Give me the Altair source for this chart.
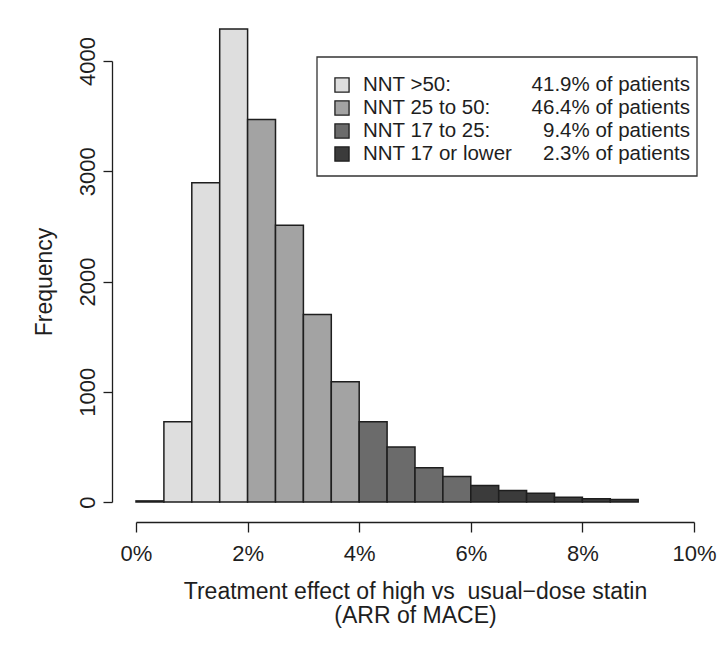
import altair as alt
import pandas as pd

# ---- data ----
bin_start = [0.0, 0.5, 1.0, 1.5, 2.0, 2.5, 3.0, 3.5, 4.0, 4.5, 5.0, 5.5, 6.0, 6.5, 7.0, 7.5, 8.0, 8.5]
bin_width = 0.5
counts = [10, 728, 2895, 4290, 3470, 2510, 1700, 1090, 728, 500, 310, 232, 150, 105, 80, 42, 30, 22]
groups = ["NNT >50:"] * 4 + ["NNT 25 to 50:"] * 4 + ["NNT 17 to 25:"] * 4 + ["NNT 17 or lower"] * 6

legend_names = ["NNT >50:", "NNT 25 to 50:", "NNT 17 to 25:", "NNT 17 or lower"]
legend_pcts = ["41.9% of patients", "46.4% of patients", "9.4% of patients", "2.3% of patients"]
fill_colors = ["#dedede", "#a3a3a3", "#6b6b6b", "#3b3b3b"]

x_ticks = [0, 2, 4, 6, 8, 10]
y_ticks = [0, 1000, 2000, 3000, 4000]
x_title = ["Treatment effect of high vs\u00a0 usual\u2212dose statin", "(ARR of MACE)"]
y_title = "Frequency"

FONT = "Liberation Sans"
INK = "#1e1e1e"

bars_df = pd.DataFrame({
    "start": bin_start,
    "end": [s + bin_width for s in bin_start],
    "count": counts,
    "group": groups,
})
legend_df = pd.DataFrame({"name": legend_names, "pct": legend_pcts})
box_df = pd.DataFrame({"k": [0]})

color_scale = alt.Scale(domain=legend_names, range=fill_colors)

bars = alt.Chart(bars_df).mark_bar(stroke=INK, strokeWidth=1.5, opacity=1).encode(
    x=alt.X("start:Q",
            scale=alt.Scale(domain=[0, 10], nice=False, zero=False),
            axis=alt.Axis(values=x_ticks, labelExpr="datum.value + '%'", title=x_title,
                          offset=20, tickSize=10, labelPadding=11, titlePadding=16,
                          titleLineHeight=24, labelFlush=False)),
    x2="end:Q",
    y=alt.Y("count:Q",
            scale=alt.Scale(domain=[0, 4000], nice=False),
            axis=alt.Axis(values=y_ticks, format="d", title=y_title, offset=24, tickSize=9,
                          labelAngle=270, labelAlign="center", labelBaseline="bottom",
                          labelPadding=4, titlePadding=20, labelFlush=False)),
    y2=alt.datum(0),
    fill=alt.Fill("group:N", scale=color_scale, legend=None),
)

row_y = alt.Y("name:N", sort=legend_names,
              scale=alt.Scale(type="point", range=[24, 93], padding=0), axis=None)

box = alt.Chart(box_df).mark_rect(filled=False, stroke="#333333", strokeWidth=1.3).encode(
    x=alt.value(181), x2=alt.value(561), y=alt.value(-4), y2=alt.value(115)
)

squares = alt.Chart(legend_df).mark_square(size=200, stroke=INK, strokeWidth=1.3, opacity=1).encode(
    x=alt.value(206),
    y=row_y,
    fill=alt.Fill("name:N", scale=color_scale, legend=None),
)

names = alt.Chart(legend_df).mark_text(align="left", baseline="middle", fontSize=20.5,
                                       font=FONT, color=INK).encode(
    x=alt.value(227), y=row_y, text="name:N"
)

pcts = alt.Chart(legend_df).mark_text(align="right", baseline="middle", fontSize=20.5,
                                      font=FONT, color=INK).encode(
    x=alt.value(554), y=row_y, text="pct:N"
)

chart = alt.layer(bars, box, squares, names, pcts).resolve_scale(
    y="independent", fill="shared"
).properties(
    width=558, height=441,
    autosize=alt.AutoSizeParams(type="none"),
    padding={"left": 128, "top": 53, "right": 24, "bottom": 140},
    background="white",
).configure_view(stroke=None).configure_axis(
    grid=False, domainColor=INK, tickColor=INK, domainWidth=1.3, tickWidth=1.3,
    labelFont=FONT, labelFontSize=22, labelColor=INK,
    titleFont=FONT, titleFontSize=23, titleFontWeight="normal", titleColor=INK,
)

chart.save("out.html", embed_options={"renderer": "svg", "actions": False})
